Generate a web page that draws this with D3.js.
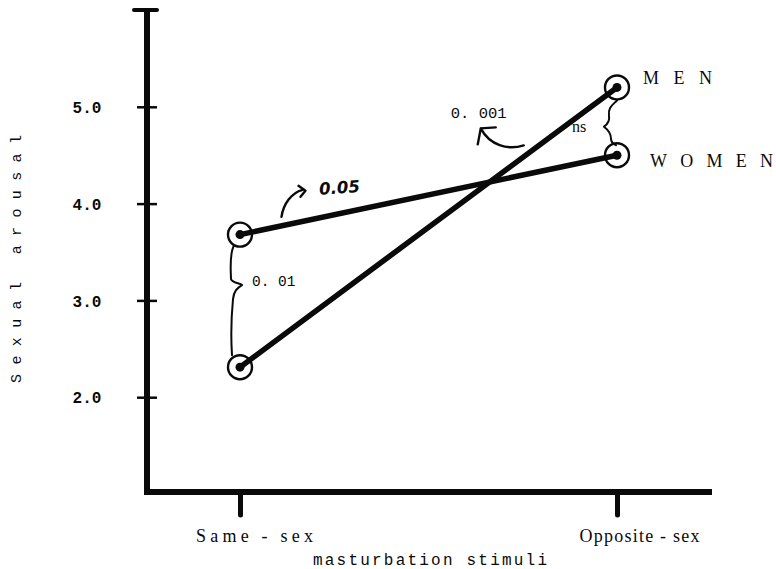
<!DOCTYPE html>
<html>
<head>
<meta charset="utf-8">
<script src="https://cdn.jsdelivr.net/npm/d3@7"></script>
<style>
  html, body { margin: 0; padding: 0; background: #fff; }
  svg { display: block; }
</style>
</head>
<body>
<div id="chart"></div>
<script>
// Sexual arousal by stimulus type, men vs women (interaction plot)

const categories = ['Same - sex', 'Opposite - sex'];
const menValues = [2.31, 5.2];
const womenValues = [3.68, 4.5];
const yTicks = [2, 3, 4, 5];
const seriesNames = ['MEN', 'WOMEN'];
// significance notes: women slope, same-sex gap, men slope, opposite-sex gap
const sigLabels = ['0.05', '0. 01', '0. 001', 'ns'];

const width = 776, height = 569;
const ink = '#0a0a0a';

const svg = d3.select('#chart').append('svg')
    .attr('width', width)
    .attr('height', height);

const x = d3.scalePoint().domain(categories).range([240, 617]);
const y = d3.scaleLinear().domain([1, 6]).range([494, 10]);

const axisX = 147;
const axisY = 492;

// Y axis
const yAxis = svg.append('g')
    .attr('transform', `translate(${axisX},0)`)
    .call(d3.axisLeft(y).tickValues(yTicks).tickSizeOuter(0).tickFormat(d3.format('.1f')));
yAxis.select('.domain').remove();
yAxis.selectAll('.tick line')
    .attr('x1', -10).attr('x2', 10)
    .attr('stroke', ink).attr('stroke-width', 2.5);
yAxis.selectAll('.tick text')
    .attr('x', -60)
    .attr('dy', '0.35em')
    .attr('text-anchor', 'middle')
    .attr('fill', ink)
    .attr('font-family', '"Liberation Mono", monospace')
    .attr('font-weight', 'bold')
    .attr('font-size', '16px');

svg.append('line')
    .attr('x1', axisX).attr('x2', axisX)
    .attr('y1', y(6)).attr('y2', axisY + 3)
    .attr('stroke', ink).attr('stroke-width', 6);
svg.append('line')
    .attr('x1', axisX - 13).attr('x2', axisX + 10)
    .attr('y1', y(6)).attr('y2', y(6))
    .attr('stroke', ink).attr('stroke-width', 4)
    .attr('stroke-linecap', 'round');

// X axis
const xAxis = svg.append('g')
    .attr('transform', `translate(0,${axisY})`)
    .call(d3.axisBottom(x).tickSize(23).tickPadding(0));
xAxis.select('.domain').remove();
xAxis.selectAll('.tick line')
    .attr('stroke', ink).attr('stroke-width', 5)
    .attr('stroke-linecap', 'round');
xAxis.selectAll('.tick text')
    .attr('y', 50)
    .attr('dy', 0)
    .attr('dx', (d, i) => i === 0 ? 14 : 22)
    .attr('fill', ink)
    .attr('font-family', '"Liberation Serif", serif')
    .attr('font-size', '18px')
    .attr('textLength', (d, i) => i === 0 ? 117 : 120)
    .attr('lengthAdjust', 'spacing');

svg.append('line')
    .attr('x1', axisX - 3).attr('x2', 712)
    .attr('y1', axisY).attr('y2', axisY)
    .attr('stroke', ink).attr('stroke-width', 6);

// Axis titles
svg.append('text')
    .attr('x', 430).attr('y', 565)
    .attr('text-anchor', 'middle')
    .attr('fill', ink)
    .attr('font-family', '"Liberation Mono", monospace')
    .attr('font-size', '16px')
    .attr('textLength', 234)
    .attr('lengthAdjust', 'spacing')
    .text('masturbation stimuli');

svg.append('text')
    .attr('transform', 'translate(21,259) rotate(-90)')
    .attr('text-anchor', 'middle')
    .attr('fill', ink)
    .attr('font-family', '"Liberation Mono", monospace')
    .attr('font-size', '15px')
    .attr('textLength', 248)
    .attr('lengthAdjust', 'spacing')
    .text('Sexual arousal');

// Series lines
const series = [
    { name: seriesNames[0], values: menValues },
    { name: seriesNames[1], values: womenValues }
];

const line = d3.line()
    .x((d, i) => x(categories[i]))
    .y(d => y(d));

svg.selectAll('.series')
    .data(series)
    .join('path')
    .attr('class', 'series')
    .attr('d', d => line(d.values))
    .attr('fill', 'none')
    .attr('stroke', ink)
    .attr('stroke-width', 5.5)
    .attr('stroke-linecap', 'round');

const points = series.flatMap(s => s.values.map((v, i) => ({ cat: categories[i], v })));

svg.selectAll('.ring')
    .data(points)
    .join('circle')
    .attr('class', 'ring')
    .attr('cx', d => x(d.cat))
    .attr('cy', d => y(d.v))
    .attr('r', 12)
    .attr('fill', 'none')
    .attr('stroke', ink)
    .attr('stroke-width', 2.4);

svg.selectAll('.dot')
    .data(points)
    .join('circle')
    .attr('class', 'dot')
    .attr('cx', d => x(d.cat))
    .attr('cy', d => y(d.v))
    .attr('r', 4.5)
    .attr('fill', ink);

// Series names
const xo = x(categories[1]);
const xs = x(categories[0]);

svg.append('text')
    .attr('x', xo + 26).attr('y', y(menValues[1]) - 3)
    .attr('fill', ink)
    .attr('font-family', '"Liberation Serif", serif')
    .attr('font-size', '18px')
    .attr('textLength', 69)
    .attr('lengthAdjust', 'spacing')
    .text(seriesNames[0]);

svg.append('text')
    .attr('x', xo + 33).attr('y', y(womenValues[1]) + 12)
    .attr('fill', ink)
    .attr('font-family', '"Liberation Serif", serif')
    .attr('font-size', '18px')
    .attr('textLength', 123)
    .attr('lengthAdjust', 'spacing')
    .text(seriesNames[1]);

// Hand-drawn significance marks
const pen = g => g.attr('fill', 'none').attr('stroke', ink)
    .attr('stroke-width', 2).attr('stroke-linecap', 'round').attr('stroke-linejoin', 'round');

// brace between the two same-sex points
const t = y(womenValues[0]) + 11, b = y(menValues[0]) - 12;
const bm = t + (b - t) * 0.36;
svg.append('path').call(pen)
    .attr('d', `M${xs - 6},${t} C${xs - 11},${t + 9} ${xs - 9},${bm - 12} ${xs - 9},${bm - 6}
      C${xs - 8},${bm - 2} ${xs},${bm - 2} ${xs + 2},${bm}
      C${xs - 3},${bm + 3} ${xs - 6},${bm + 6} ${xs - 7},${bm + 14}
      C${xs - 9},${bm + 35} ${xs - 9},${b - 15} ${xs - 8},${b}`);

svg.append('text')
    .attr('x', xs + 12).attr('y', bm + 1)
    .attr('fill', ink)
    .attr('font-family', '"Liberation Mono", monospace')
    .attr('font-size', '14.5px')
    .text(sigLabels[1]);

// brace between the two opposite-sex points
const t2 = y(menValues[1]) + 13, b2 = y(womenValues[1]) - 11;
const bm2 = t2 + (b2 - t2) * 0.6;
svg.append('path').call(pen)
    .attr('d', `M${xo},${t2} C${xo - 5},${t2 + 5} ${xo - 9},${t2 + 7} ${xo - 8},${bm2 - 11}
      C${xo - 7},${bm2 - 5} ${xo - 10},${bm2 - 2} ${xo - 13},${bm2}
      C${xo - 9},${bm2 + 3} ${xo - 6},${bm2 + 7} ${xo - 6},${bm2 + 12}
      C${xo - 6},${b2 - 2} ${xo - 3},${b2} ${xo - 1},${b2 + 1}`);

svg.append('text')
    .attr('x', xo - 45).attr('y', bm2 + 5)
    .attr('fill', ink)
    .attr('font-family', '"Liberation Serif", serif')
    .attr('font-size', '16px')
    .text(sigLabels[3]);

// arrow to the men line
const ma = { x: x.range()[0] + (xo - xs) * 0.75, y: y(menValues[0] + (menValues[1] - menValues[0]) * 0.75) };
svg.append('path').call(pen).attr('stroke-width', 2.4)
    .attr('d', `M${ma.x + 1},${ma.y - 12} C${ma.x - 15},${ma.y - 7} ${ma.x - 33},${ma.y - 12} ${ma.x - 42},${ma.y - 29}
      M${ma.x - 45},${ma.y - 13} L${ma.x - 42},${ma.y - 29} L${ma.x - 27},${ma.y - 30}`);

svg.append('text')
    .attr('x', ma.x - 72).attr('y', ma.y - 39)
    .attr('fill', ink)
    .attr('font-family', '"Liberation Mono", monospace')
    .attr('font-size', '15.5px')
    .text(sigLabels[2]);

// arrow to the women line
const wa = { x: xs + (xo - xs) * 0.11, y: y(womenValues[0] + (womenValues[1] - womenValues[0]) * 0.11) };
svg.append('path').call(pen).attr('stroke-width', 2.4)
    .attr('d', `M${wa.x},${wa.y - 9} C${wa.x + 2},${wa.y - 22} ${wa.x + 10},${wa.y - 33} ${wa.x + 21},${wa.y - 36}
      M${wa.x + 17},${wa.y - 40} L${wa.x + 24},${wa.y - 35} L${wa.x + 19},${wa.y - 29}`);

svg.append('text')
    .attr('transform', `translate(${wa.x + 38},${wa.y - 31}) rotate(-4)`)
    .attr('fill', ink)
    .attr('font-family', '"DejaVu Sans", sans-serif')
    .attr('font-style', 'italic')
    .attr('font-weight', 'bold')
    .attr('font-size', '16.5px')
    .text(sigLabels[0]);
</script>
</body>
</html>
